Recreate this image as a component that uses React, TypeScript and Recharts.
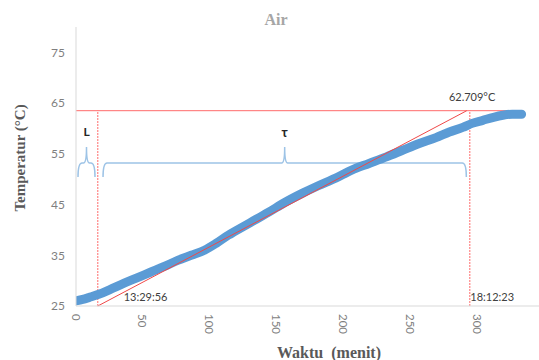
import React from 'react';
import { ComposedChart, Line, XAxis, YAxis, ReferenceLine, ReferenceDot } from 'recharts';

// Water heating curve: time (minutes) vs temperature (°C)
const timeMin = [0, 5, 10, 17, 25, 36, 46, 56, 66, 76, 86, 96, 105, 114, 118, 130, 144, 156, 169, 181, 194, 206, 219, 232, 244, 256, 269, 279, 289, 296, 304, 312, 319, 326, 333];
const tempC = [26.0, 26.3, 26.7, 27.3, 28.2, 29.5, 30.6, 31.7, 32.8, 34.0, 35.0, 36.0, 37.4, 39.0, 39.6, 41.4, 43.5, 45.4, 47.2, 48.7, 50.2, 51.8, 53.1, 54.4, 55.7, 57.0, 58.2, 59.3, 60.2, 61.0, 61.6, 62.2, 62.6, 62.8, 62.8];

const xTicks = [0, 50, 100, 150, 200, 250, 300];
const yTicks = [25, 35, 45, 55, 65, 75];

// Annotation values (data units)
const lagEnd = 16.3;        // tangent crosses 25 °C
const tauEnd = 294.3;       // tangent meets plateau
const tangentTop = 292;
const plateauTemp = 63.5;
const plateauEnd = 325;
const baseTemp = 25;
const braceTemp = 53.2;
const braceLabelTemp = 59.3;
const lBrace = [1.5, 14.2];
const tauBrace = [20.2, 291.7];
const timeLabelTemp = 26.8;
const startLabel = { x: 52, text: '13:29:56' };
const endLabel = { x: 311, text: '18:12:23' };
const peakLabel = { x: 296, y: 66.2, text: '62.709°C' };

const rows = timeMin.map((t, i) => ({ t, temp: tempC[i] }));

const SANS = 'Lato, "Open Sans", sans-serif';
const SERIF = '"Liberation Serif", "DejaVu Serif", serif';
const RED = '#ff6b6b';

const XTick = (props: any) => {
  const { x, y, payload } = props;
  return (
    <text
      x={0}
      y={0}
      transform={`translate(${x},${y}) rotate(90)`}
      textAnchor="start"
      dominantBaseline="central"
      fill="#7f7f7f"
      fontSize={11.5}
      fontFamily={SANS}
    >
      {payload.value}
    </text>
  );
};

const braceShape = (p: any) => {
  const xa = Math.min(p.x1, p.x2);
  const xb = Math.max(p.x1, p.x2);
  const y = p.y1;
  const xm = (xa + xb) / 2;
  const d = `M${xa},${y + 14} Q${xa},${y} ${xa + 4},${y} L${xm - 3},${y} Q${xm},${y} ${xm},${y - 16} Q${xm},${y} ${xm + 3},${y} L${xb - 4},${y} Q${xb},${y} ${xb},${y + 14}`;
  return <path d={d} fill="none" stroke="#9dc3e6" strokeWidth={1.5} />;
};

const textLabel = (value: string, size: number, weight: string, fill: string) => ({
  value,
  position: 'center' as const,
  fill,
  fontSize: size,
  fontWeight: weight,
  fontFamily: SANS,
});

export default function App() {
  return (
    <div style={{ position: 'absolute', left: 0, top: 0, width: 539, height: 360, background: '#fff', overflow: 'hidden' }}>
      <ComposedChart width={539} height={360} data={rows} margin={{ top: 27, right: 0, bottom: 0, left: 0 }}>
        <XAxis
          type="number"
          dataKey="t"
          domain={[0, 346]}
          ticks={xTicks}
          interval={0}
          height={54}
          stroke="#d9d9d9"
          tickLine={false}
          tick={<XTick />}
          allowDataOverflow
        />
        <YAxis
          type="number"
          domain={[25, 80]}
          ticks={yTicks}
          width={76}
          stroke="#d9d9d9"
          tickLine={false}
          tickMargin={5}
          tick={{ fill: '#7f7f7f', fontSize: 12, fontFamily: SANS }}
          allowDataOverflow
        />
        <ReferenceLine segment={[{ x: 0, y: plateauTemp }, { x: plateauEnd, y: plateauTemp }]} stroke={RED} strokeWidth={1} />
        <ReferenceLine segment={[{ x: lagEnd, y: baseTemp }, { x: lagEnd, y: plateauTemp }]} stroke={RED} strokeWidth={1} strokeDasharray="2 1" />
        <ReferenceLine segment={[{ x: tauEnd, y: baseTemp }, { x: tauEnd, y: plateauTemp }]} stroke={RED} strokeWidth={1} strokeDasharray="2 1" />
        <ReferenceLine segment={[{ x: lBrace[0], y: braceTemp }, { x: lBrace[1], y: braceTemp }]} shape={braceShape} />
        <ReferenceLine segment={[{ x: tauBrace[0], y: braceTemp }, { x: tauBrace[1], y: braceTemp }]} shape={braceShape} />
        <Line
          dataKey="temp"
          type="monotone"
          stroke="#5b9bd5"
          strokeWidth={9}
          strokeLinecap="round"
          strokeLinejoin="round"
          dot={false}
          activeDot={false}
          isAnimationActive={false}
        />
        <ReferenceLine segment={[{ x: lagEnd, y: baseTemp }, { x: tangentTop, y: plateauTemp }]} stroke="#f04848" strokeWidth={1} />
        <ReferenceDot x={(lBrace[0] + lBrace[1]) / 2} y={braceLabelTemp} r={0} fill="none" stroke="none" label={textLabel('L', 12, 'bold', '#262626')} />
        <ReferenceDot x={(tauBrace[0] + tauBrace[1]) / 2} y={braceLabelTemp} r={0} fill="none" stroke="none" label={textLabel('τ', 13, 'bold', '#262626')} />
        <ReferenceDot x={startLabel.x} y={timeLabelTemp} r={0} fill="none" stroke="none" label={textLabel(startLabel.text, 11, 'normal', '#404040')} />
        <ReferenceDot x={endLabel.x} y={timeLabelTemp} r={0} fill="none" stroke="none" label={textLabel(endLabel.text, 11, 'normal', '#404040')} />
        <ReferenceDot x={peakLabel.x} y={peakLabel.y} r={0} fill="none" stroke="none" label={textLabel(peakLabel.text, 11, 'normal', '#404040')} />
      </ComposedChart>
      <svg width={539} height={360} style={{ position: 'absolute', left: 0, top: 0, pointerEvents: 'none' }}>
        <text x={276} y={25} textAnchor="middle" fill="#a6a6a6" fontSize={16} fontWeight="bold" fontFamily={SERIF}>Air</text>
        <text x={329} y={358} textAnchor="middle" fill="#595959" fontSize={16} fontWeight="bold" fontFamily={SERIF} wordSpacing={4}>Waktu (menit)</text>
        <text
          x={0}
          y={0}
          transform="translate(25,158) rotate(-90)"
          textAnchor="middle"
          fill="#595959"
          fontSize={15}
          fontWeight="bold"
          fontFamily={SERIF}
        >
          Temperatur (°C)
        </text>
      </svg>
    </div>
  );
}
